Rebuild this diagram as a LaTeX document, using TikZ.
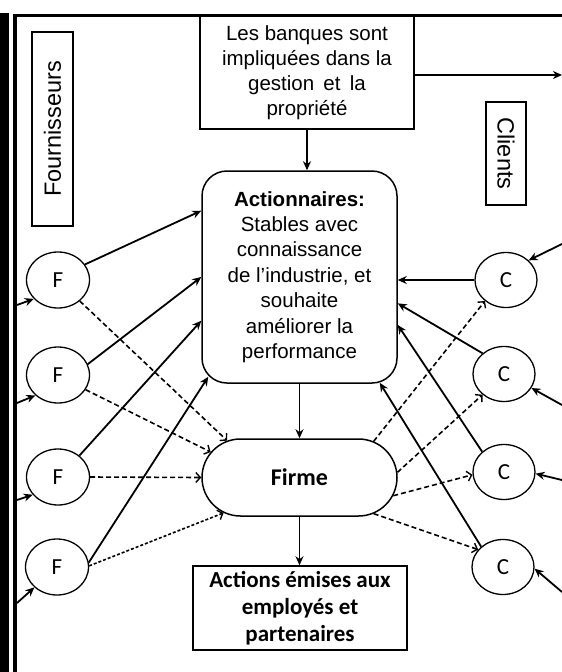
\documentclass[tikz,border=0pt]{standalone}
\usepackage{fontspec}
\setmainfont{Liberation Sans}
\newfontfamily\calib{Carlito}
\usetikzlibrary{arrows.meta,shapes.geometric,shapes.misc,calc}

\begin{document}
\begin{tikzpicture}[x=1pt,y=-1pt,
  box/.style={draw,line width=1.5pt,inner sep=0pt,align=center},
  party/.style={draw,ellipse,line width=1.3pt,minimum width=63pt,minimum height=56pt,
    inner sep=0pt,font=\calib\fontsize{23}{23}\selectfont},
  solidarrow/.style={line width=1.8pt,-{Stealth[length=9pt,width=8pt]}},
  dasharrow/.style={line width=1.6pt,dash pattern=on 5pt off 3pt,
    -{Straight Barb[length=4.5pt,width=10pt,line width=1.4pt]}},
  finedash/.style={dasharrow,dash pattern=on 3pt off 2pt}]

\useasboundingbox (0,0) rectangle (562,672);

% outer frame
\fill (0,12.7) rectangle (9,672);
\fill (13,14) rectangle (17,672);
\fill (13,14) rectangle (562,16.5);

% labels of the two sides
\node[box,rotate=90,minimum width=194pt,minimum height=41pt,
  font=\fontsize{23.5}{23.5}\selectfont] (four) at (52.5,129) {Fournisseurs};
\node[box,rotate=-90,minimum width=103pt,minimum height=40pt,
  font=\fontsize{23.5}{23.5}\selectfont] (cli) at (506,153.5) {Clients};

% main boxes
\node[box,minimum width=214pt,minimum height=113pt,font=\fontsize{20.5}{25}\selectfont]
  (bank) at (307,72.5) {Les banques sont\\impliquées dans la\\gestion\hspace{0.45em}et\hspace{0.45em}la\\propriété};
\node[box,rounded corners=25pt,minimum width=195pt,minimum height=212pt,
  font=\fontsize{20.5}{25.4}\selectfont] (act) at (299.5,277)
  {\textbf{Actionnaires:}\\Stables avec\\connaissance\\de l’industrie, et\\souhaite\\améliorer la\\performance};
\node[box,rounded rectangle,minimum width=195pt,minimum height=77pt,
  font=\calib\bfseries\fontsize{24}{24}\selectfont] (firm) at (299.5,477.5) {Firme};
\node[box,minimum width=214pt,minimum height=84pt,
  font=\calib\bfseries\fontsize{23}{27}\selectfont] (emis) at (300,608)
  {Actions émises aux\\employés et\\partenaires};

% suppliers and customers
\node[party] (F1) at (58,280) {F};
\node[party] (F2) at (58,375) {F};
\node[party] (F3) at (58,477) {F};
\node[party] (F4) at (57,567) {F};
\node[party,minimum width=62pt,minimum height=55pt] (C1) at (506,280) {C};
\node[party,minimum width=62pt,minimum height=55pt] (C2) at (504,374) {C};
\node[party,minimum width=62pt,minimum height=55pt] (C3) at (504,472) {C};
\node[party,minimum width=62pt,minimum height=55pt] (C4) at (503,567) {C};

% free ends at the frame
\coordinate (bankout) at (562,75);
\coordinate (fin1) at (17,305);
\coordinate (fin2) at (17,403);
\coordinate (fin3) at (17,500);
\coordinate (fin4) at (17,603);
\coordinate (cin1) at (562,244);
\coordinate (cin2) at (562,405);
\coordinate (cin3) at (562,480);
\coordinate (cin4) at (562,592);

% vertical chain
\draw[solidarrow] (bank.south) -- (bank.south |- act.north);
\draw[solidarrow] (bank.east |- bankout) -- (bankout);
\draw[solidarrow] (act.south) -- (firm.north);
\draw[solidarrow] (firm.south) -- (firm.south |- emis.north);

% inputs into suppliers and customers
\draw[solidarrow] (fin1) -- (F1.-142);
\draw[solidarrow] (fin2) -- (F2.-138);
\draw[solidarrow] (fin3) -- (F3.-145);
\draw[solidarrow] (fin4) -- (F4.-138);
\draw[solidarrow] (cin1) -- (C1.41);
\draw[solidarrow] (cin2) -- (C2.-27);
\draw[solidarrow] (cin3) -- (C3.-3);
\draw[solidarrow] (cin4) -- (C4.-3);

% suppliers -> shareholders
\draw[solidarrow] (F1.30) -- (act.146.3);
\draw[solidarrow] (F2.20) -- (act.180);
\draw[solidarrow] (F3.45) -- (act.204.3);
\draw[solidarrow] (F4.8) -- ($(act.south west)+(7,-7)$);

% customers -> shareholders
\draw[solidarrow] (C1.west) -- (C1.west -| act.east);
\draw[solidarrow] (C2.136) -- (act.-15.5);
\draw[solidarrow] (C3.137) -- (act.-26.2);
\draw[solidarrow] (C4.137) -- ($(act.south east)+(-18,-1)$);

% suppliers -> firm
\draw[dasharrow] (F1.-44) -- (firm.153);
\draw[dasharrow] (F2.-28) -- (firm.164.6);
\draw[dasharrow] (F3.east) -- (firm.west);
\draw[finedash] (F4.2) -- (firm.205.8);

% firm -> customers
\draw[dasharrow] (firm.26.7) -- (C1.-135);
\draw[dasharrow] (firm.3) -- (C2.-136);
\draw[dasharrow] (firm.-11.2) -- (C3.-175);
\draw[dasharrow] (firm.-26) -- (C4.145);

\end{tikzpicture}
\end{document}
